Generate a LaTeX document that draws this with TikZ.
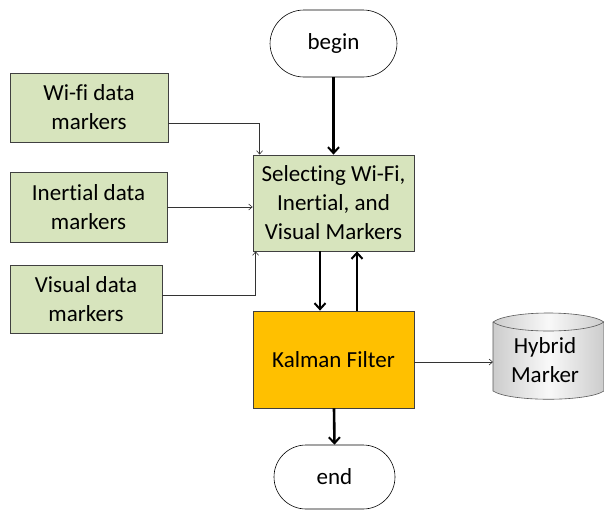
\documentclass[tikz,border=0pt]{standalone}
\usepackage{fontspec}
\setmainfont{Carlito}[Ligatures=NoCommon]
\usetikzlibrary{arrows.meta,positioning}

\definecolor{boxgreen}{HTML}{D7E4BD}
\definecolor{boxedge}{HTML}{404040}
\definecolor{kalman}{HTML}{FFC000}

\tikzset{
  labelfont/.style={font=\fontsize{23}{29}\selectfont},
  procbox/.style={draw=boxedge, line width=0.8pt, fill=boxgreen, align=center,
    labelfont, inner sep=0pt},
  termbox/.style={draw=black, line width=0.6pt, rounded corners=34pt, fill=white,
    labelfont, inner sep=0pt},
  thinflow/.style={draw=black!80, line width=0.6pt, -{Straight Barb[length=3.5pt,width=6pt]}},
  thickflow/.style={draw=black, line width=2.6pt, -{Straight Barb[length=6pt,width=11pt,line width=2pt]}},
}

\begin{document}
\begin{tikzpicture}[x=1pt,y=-1pt]
  \useasboundingbox (0,0) rectangle (604,509);

  % terminators
  \node[termbox, minimum width=127pt, minimum height=67pt] (begin) at (333.5,43.5) {begin};
  \node[termbox, minimum width=121pt, minimum height=64pt, rounded corners=32pt] (end) at (334.5,477) {end};

  % main processing blocks
  \node[procbox, minimum width=161pt, minimum height=96pt] (select) at (333.5,203)
    {Selecting Wi-Fi,\\Inertial, and\\Visual Markers};
  \node[procbox, fill=kalman, minimum width=161pt, minimum height=97pt] (kf) at (333.5,359.5)
    {Kalman Filter};

  % sensor marker sources
  \node[procbox, minimum width=158pt, minimum height=69pt] (wifi) at (89,107.5)
    {Wi-fi data\\markers};
  \node[procbox, minimum width=157pt, minimum height=70pt] (inertial) at (88.5,207)
    {Inertial data\\markers};
  \node[procbox, minimum width=152pt, minimum height=68pt] (visual) at (86,299)
    {Visual data\\markers};

  % stored hybrid marker (cylinder cut by the right margin)
  \begin{scope}
    \clip (0,0) rectangle (604,509);
    \shade[left color=gray!40, right color=gray!40, middle color=gray!5, draw=gray!70!black, line width=0.6pt]
      (493,322) .. controls (510,310) and (587,310) .. (604,322)
      -- (604,391) .. controls (587,402) and (510,402) .. (493,391) -- cycle;
    \draw[gray!70!black, line width=0.6pt]
      (493,322) .. controls (510,334) and (587,334) .. (604,322);
  \end{scope}
  \node[labelfont, align=center] (hybrid) at (545,360) {Hybrid\\Marker};
  \coordinate (hmin) at (493,362);

  % connectors
  \draw[thickflow] (begin.south) -- (select.north);
  \draw[thickflow] ([xshift=-13.5pt]select.south) -- ([xshift=-13.5pt]kf.north);
  \draw[thickflow] ([xshift=23.5pt]kf.north) -- ([xshift=23.5pt]select.south);
  \draw[thickflow] ([xshift=0.5pt]kf.south) -- (end.north);

  \draw[thinflow] (wifi.east |- 0,123) -| ([xshift=7pt]select.north west);
  \draw[thinflow] (inertial.east) -- (select.west |- inertial.east);
  \draw[thinflow] (visual.east |- 0,295) -| ([xshift=3pt]select.south west);
  \draw[thinflow] (kf.east |- hmin) -- (hmin);
\end{tikzpicture}
\end{document}
